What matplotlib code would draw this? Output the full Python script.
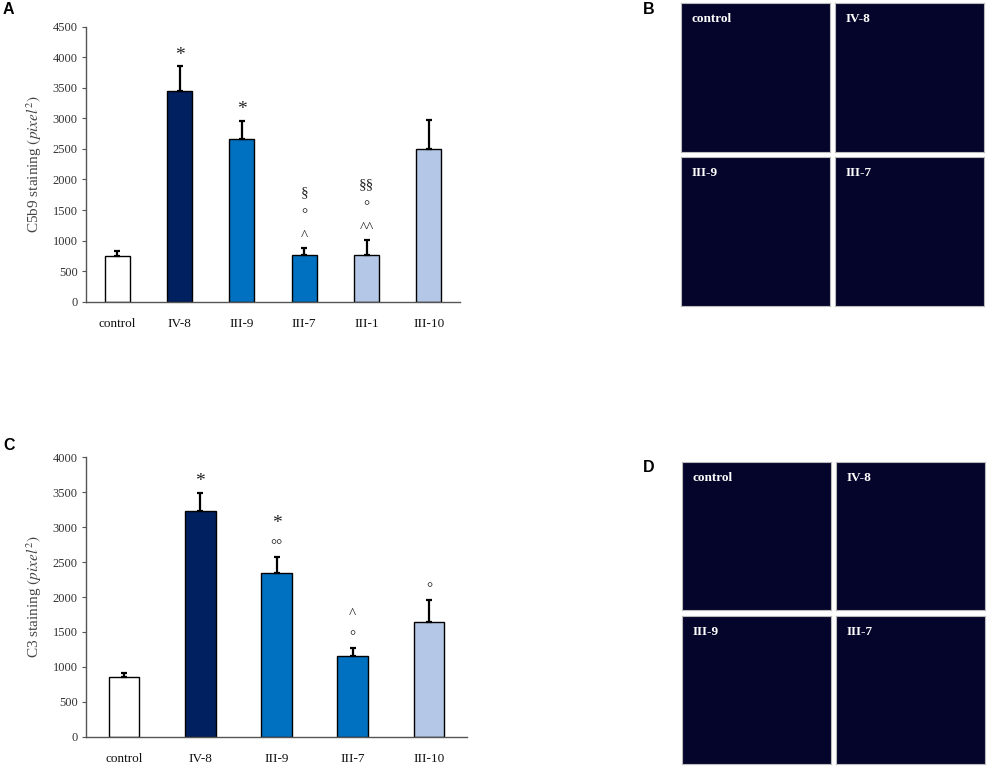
import matplotlib.pyplot as plt

W, H = 988, 768

# panel A: C5b9
groups_a = ["control", "IV-8", "III-9", "III-7", "III-1", "III-10"]
c5b9_mean = [740, 3440, 2655, 765, 765, 2495]
c5b9_err = [95, 410, 305, 115, 245, 485]
# significance marks, listed bottom to top
c5b9_marks = [[], ["*"], ["*"], ["^", "°", "§"], ["^^", "°", "§§"], []]

# panel C: C3
groups_c = ["control", "IV-8", "III-9", "III-7", "III-10"]
c3_mean = [850, 3230, 2345, 1155, 1645]
c3_err = [66, 263, 230, 120, 315]
c3_marks = [[], ["*"], ["°°", "*"], ["°", "^"], ["°"]]

bar_colors = {"control": "#ffffff", "IV-8": "#002060", "III-9": "#0070c0",
              "III-7": "#0070c0", "III-1": "#b4c7e7", "III-10": "#b4c7e7"}

micro_labels = ["control", "IV-8", "III-9", "III-7"]

SERIF = "Liberation Serif"
SANS = "Liberation Sans"
plt.rcParams["mathtext.fontset"] = "stix"


def px_axes(fig, x0, y0, x1, y1):
    return fig.add_axes([x0 / W, 1 - y1 / H, (x1 - x0) / W, (y1 - y0) / H])


def bar_panel(ax, groups, means, errs, marks, ymax, ylabel):
    x = range(len(groups))
    colors = [bar_colors[g] for g in groups]
    ax.bar(x, means, width=0.4, color=colors, edgecolor="black", linewidth=1.0, zorder=2)
    ax.errorbar(x, means, yerr=[[0] * len(errs), errs], fmt="none", ecolor="black",
                elinewidth=1.6, capsize=2.5, capthick=1.6, zorder=3)
    for i, stack in enumerate(marks):
        for k, m in enumerate(stack):
            fs = 14 if m == "*" else 11
            ax.annotate(m, (i, means[i] + errs[i]), xytext=(0, 8 + k * 16),
                        textcoords="offset points", ha="center", va="center",
                        family=SERIF, fontsize=fs, color="#222222")
    ax.set_xlim(-0.5, len(groups) - 0.5)
    ax.set_ylim(0, ymax)
    ax.set_yticks(range(0, ymax + 1, 500))
    ax.set_xticks(list(x))
    ax.set_xticklabels(groups, family=SERIF, fontsize=9.5, color="#111111")
    ax.tick_params(axis="x", length=0, pad=11.5)
    ax.tick_params(axis="y", direction="out", length=3, width=0.8, colors="#555555",
                   labelcolor="#333333", labelsize=9, pad=3)
    for lab in ax.get_yticklabels():
        lab.set_family(SERIF)
    for s in ["top", "right"]:
        ax.spines[s].set_visible(False)
    for s in ["left", "bottom"]:
        ax.spines[s].set_color("#555555")
        ax.spines[s].set_linewidth(1.0)
    ax.set_ylabel(ylabel, family=SERIF, fontsize=11, color="#444444", labelpad=6)


def micro_panel(fig, x0, y0, cw, ch, gap_x, gap_y):
    for k, lab in enumerate(micro_labels):
        r, c = divmod(k, 2)
        xa = x0 + c * (cw + gap_x)
        ya = y0 + r * (ch + gap_y)
        ax = px_axes(fig, xa, ya, xa + cw, ya + ch)
        ax.set_facecolor("#05052c")
        ax.set_xticks([])
        ax.set_yticks([])
        for s in ax.spines.values():
            s.set_color("#bbbbbb")
            s.set_linewidth(0.8)
        ax.text(0.07, 0.93, lab, transform=ax.transAxes, ha="left", va="top",
                family=SERIF, fontsize=9.5, fontweight="bold", color="white")


fig = plt.figure(figsize=(W / 100, H / 100), dpi=100)

ax_a = px_axes(fig, 86, 26.7, 460, 301.7)
bar_panel(ax_a, groups_a, c5b9_mean, c5b9_err, c5b9_marks, 4500,
          r"C5b9 staining $(\mathit{pixel}^2)$")

ax_c = px_axes(fig, 86, 457.3, 467, 736.7)
bar_panel(ax_c, groups_c, c3_mean, c3_err, c3_marks, 4000,
          r"C3 staining $(\mathit{pixel}^2)$")

micro_panel(fig, 681, 3, 149, 149, 5, 5)
micro_panel(fig, 682, 462, 149, 148, 5, 6)

for letter, (lx, ly) in {"A": (3, 10), "B": (643, 10), "C": (3, 445), "D": (643, 468)}.items():
    fig.text(lx / W, 1 - ly / H, letter, family=SANS, fontsize=11.5, fontweight="bold",
             ha="left", va="center")

fig.savefig("out.png", dpi=100)
